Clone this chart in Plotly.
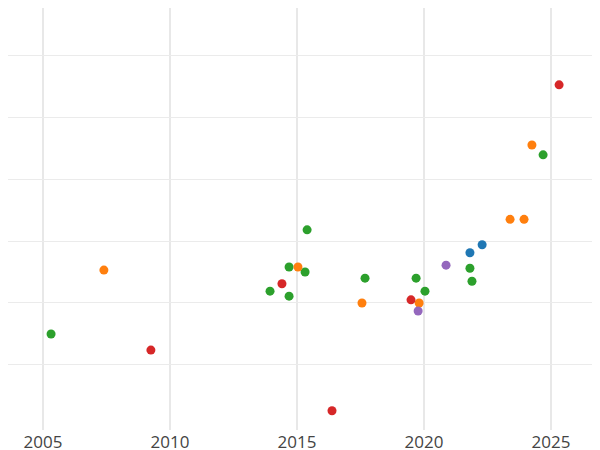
import plotly.graph_objects as go

green_x = [2005.32, 2013.94, 2014.69, 2014.69, 2015.32, 2015.40, 2017.68, 2019.69, 2020.04, 2021.81, 2021.89, 2024.69]
green_y = [1.50, 2.19, 2.58, 2.11, 2.50, 3.18, 2.40, 2.40, 2.19, 2.56, 2.35, 4.39]
orange_x = [2007.40, 2015.04, 2017.56, 2019.81, 2023.39, 2023.94, 2024.25]
orange_y = [2.53, 2.58, 2.00, 2.00, 3.35, 3.35, 4.55]
red_x = [2009.25, 2014.41, 2016.38, 2019.49, 2025.32]
red_y = [1.24, 2.31, 0.26, 2.05, 5.52]
blue_x = [2021.81, 2022.29]
blue_y = [2.81, 2.94]
purple_x = [2020.87, 2019.77]
purple_y = [2.61, 1.87]

series = [
    (green_x, green_y, "#2ca02c"),
    (orange_x, orange_y, "#ff7f0e"),
    (red_x, red_y, "#d62728"),
    (blue_x, blue_y, "#1f77b4"),
    (purple_x, purple_y, "#9467bd"),
]

fig = go.Figure()
for xs, ys, c in series:
    fig.add_trace(go.Scatter(x=xs, y=ys, mode="markers",
                             marker=dict(color=c, size=9), showlegend=False))

fig.update_layout(
    width=592, height=442, template="plotly_white",
    margin=dict(l=0, r=0, t=0, b=20),
    plot_bgcolor="white", paper_bgcolor="white",
    xaxis=dict(range=[2003.625, 2026.93], tickvals=[2005, 2010, 2015, 2020, 2025],
               gridcolor="#e8e8e8", gridwidth=2, zeroline=False, showline=False,
               tickfont=dict(size=17, color="#444"), automargin=False),
    yaxis=dict(range=[-0.05, 6.76], tickvals=[1, 2, 3, 4, 5, 6], showticklabels=False,
               gridcolor="#ebebeb", zeroline=False, automargin=False),
)
fig.write_html("out.html")
